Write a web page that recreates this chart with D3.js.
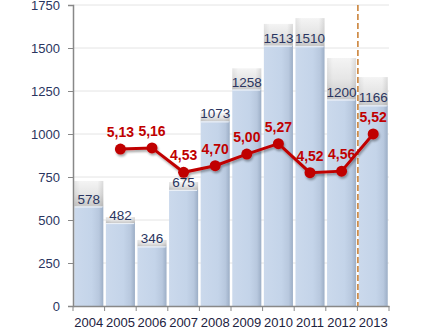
<!DOCTYPE html>
<html><head><meta charset="utf-8">
<script src="https://cdn.jsdelivr.net/npm/d3@7"></script>
<style>
html,body{margin:0;padding:0;background:#fff;}
svg text{font-family:"Liberation Sans Narrow","Arial Narrow","Liberation Sans",Arial,sans-serif;}
</style></head>
<body><svg id="c" width="427" height="335"></svg>
<script>
const years = ["2004","2005","2006","2007","2008","2009","2010","2011","2012","2013"];
const barValues = [578, 482, 346, 675, 1073, 1258, 1513, 1510, 1200, 1166];
const capValues = [727, 517, 384, 721, 1124, 1382, 1640, 1674, 1442, 1331];
const lineValues = [null, 5.13, 5.16, 4.53, 4.70, 5.00, 5.27, 4.52, 4.56, 5.52];
const lineLabels = [null, "5,13", "5,16", "4,53", "4,70", "5,00", "5,27", "4,52", "4,56", "5,52"];
const yTicks = [0, 250, 500, 750, 1000, 1250, 1500, 1750];
const dividerYear = "2013";

const svg = d3.select("#c");
const L = 73, R = 389, T = 5, B = 306;

const x = d3.scaleBand().domain(years).range([L, R]).padding(0);
const xb = d3.scaleBand().domain(years).range([L, R]).paddingInner(0.08).paddingOuter(0.04);
const y = d3.scaleLinear().domain([0, 1750]).range([B, T]);
const y2 = d3.scaleLinear().domain([4, 6]).range([192.8, 115.4]);

const defs = svg.append("defs");
const bg = defs.append("linearGradient").attr("id","barG").attr("x1","0").attr("x2","1").attr("y1","0").attr("y2","0");
bg.append("stop").attr("offset","0").attr("stop-color","#cbd9ec");
bg.append("stop").attr("offset","0.6").attr("stop-color","#c4d4e9");
bg.append("stop").attr("offset","0.85").attr("stop-color","#b8c8de");
bg.append("stop").attr("offset","1").attr("stop-color","#9caec6");
const cg = defs.append("linearGradient").attr("id","capG").attr("x1","0").attr("x2","0").attr("y1","0").attr("y2","1");
cg.append("stop").attr("offset","0").attr("stop-color","#f4f4f4");
cg.append("stop").attr("offset","0.5").attr("stop-color","#e6e6e6");
cg.append("stop").attr("offset","1").attr("stop-color","#c8c8c8");
const ch = defs.append("linearGradient").attr("id","capH").attr("x1","0").attr("x2","1").attr("y1","0").attr("y2","0");
ch.append("stop").attr("offset","0").attr("stop-color","#000").attr("stop-opacity","0.06");
ch.append("stop").attr("offset","0.2").attr("stop-color","#000").attr("stop-opacity","0");
ch.append("stop").attr("offset","0.8").attr("stop-color","#000").attr("stop-opacity","0");
ch.append("stop").attr("offset","1").attr("stop-color","#000").attr("stop-opacity","0.1");
const f = defs.append("filter").attr("id","sh").attr("x","-20%").attr("y","-20%").attr("width","140%").attr("height","160%");
f.append("feDropShadow").attr("dx",1).attr("dy",2).attr("stdDeviation",1.2).attr("flood-color","#000").attr("flood-opacity",0.35);

// gridlines
svg.append("g").selectAll("line").data(yTicks.filter(d=>d>0)).join("line")
  .attr("x1", L).attr("x2", R).attr("y1", d=>y(d)).attr("y2", d=>y(d))
  .attr("stroke", "#e4e4e4").attr("stroke-width", 1);

// bars
const bars = svg.append("g");
years.forEach((yr,i)=>{
  const bx = xb(yr), bw = xb.bandwidth();
  bars.append("rect").attr("x", bx).attr("width", bw)
    .attr("y", y(capValues[i])).attr("height", y(barValues[i]) - y(capValues[i]))
    .attr("fill", "url(#capG)");
  bars.append("rect").attr("x", bx).attr("width", bw)
    .attr("y", y(capValues[i])).attr("height", y(barValues[i]) - y(capValues[i]))
    .attr("fill", "url(#capH)");
  bars.append("rect").attr("x", bx).attr("width", bw)
    .attr("y", y(barValues[i])).attr("height", y(0) - y(barValues[i]))
    .attr("fill", "url(#barG)");
  bars.append("line").attr("x1", bx).attr("x2", bx+bw-1).attr("y1", y(barValues[i])+0.5).attr("y2", y(barValues[i])+0.5)
    .attr("stroke","#eef2f8").attr("stroke-width",1);
  bars.append("text").attr("x", bx + bw/2).attr("y", y(barValues[i]) - 3)
    .attr("text-anchor","middle").attr("font-size", 13.5).attr("fill","#2a3560")
    .text(barValues[i]);
});

// divider
svg.append("line").attr("x1", x(dividerYear)+0.5).attr("x2", x(dividerYear)+0.5)
  .attr("y1", T).attr("y2", B).attr("stroke","#c4721f").attr("stroke-width",1.4).attr("stroke-dasharray","6,3");

// axes
const yAxis = d3.axisLeft(y).tickValues(yTicks).tickFormat(d3.format("d")).tickSize(5).tickPadding(8);
const gy = svg.append("g").attr("transform", `translate(${L},0)`).call(yAxis);
gy.select(".domain").attr("stroke","#888").attr("stroke-width",1.5);
gy.selectAll(".tick line").attr("stroke","#888");
gy.selectAll(".tick text").attr("font-size",13).attr("fill","#2a3560").attr("font-family",null);

const xAxis = d3.axisBottom(x).tickSize(0).tickPadding(12);
const gx = svg.append("g").attr("transform", `translate(0,${B})`).call(xAxis);
gx.select(".domain").attr("stroke","#888").attr("stroke-width",1.5);
gx.selectAll(".tick text").attr("font-size",13).attr("fill","#1d2240").attr("font-family",null);
gx.append("g").selectAll("line").data(years.concat(["end"])).join("line")
  .attr("x1", d=> d==="end" ? R : x(d)).attr("x2", d=> d==="end" ? R : x(d))
  .attr("y1", 0).attr("y2", 5).attr("stroke","#888");

// line
const pts = years.map((yr,i)=>({yr, v: lineValues[i], lab: lineLabels[i]})).filter(d=>d.v!=null);
const line = d3.line().x(d=>x(d.yr)+x.bandwidth()/2).y(d=>y2(d.v));
const lg = svg.append("g").attr("filter","url(#sh)");
lg.append("path").datum(pts).attr("d", line).attr("fill","none").attr("stroke","#c00000").attr("stroke-width",3);
lg.selectAll("circle").data(pts).join("circle")
  .attr("cx", d=>x(d.yr)+x.bandwidth()/2).attr("cy", d=>y2(d.v)).attr("r",5.5).attr("fill","#c00000");
svg.append("g").selectAll("text").data(pts).join("text")
  .attr("x", d=>x(d.yr)+x.bandwidth()/2).attr("y", d=>y2(d.v)-12)
  .attr("text-anchor","middle").attr("font-size",14).attr("font-weight","bold").attr("fill","#c00000")
  .text(d=>d.lab);
</script></body></html>
